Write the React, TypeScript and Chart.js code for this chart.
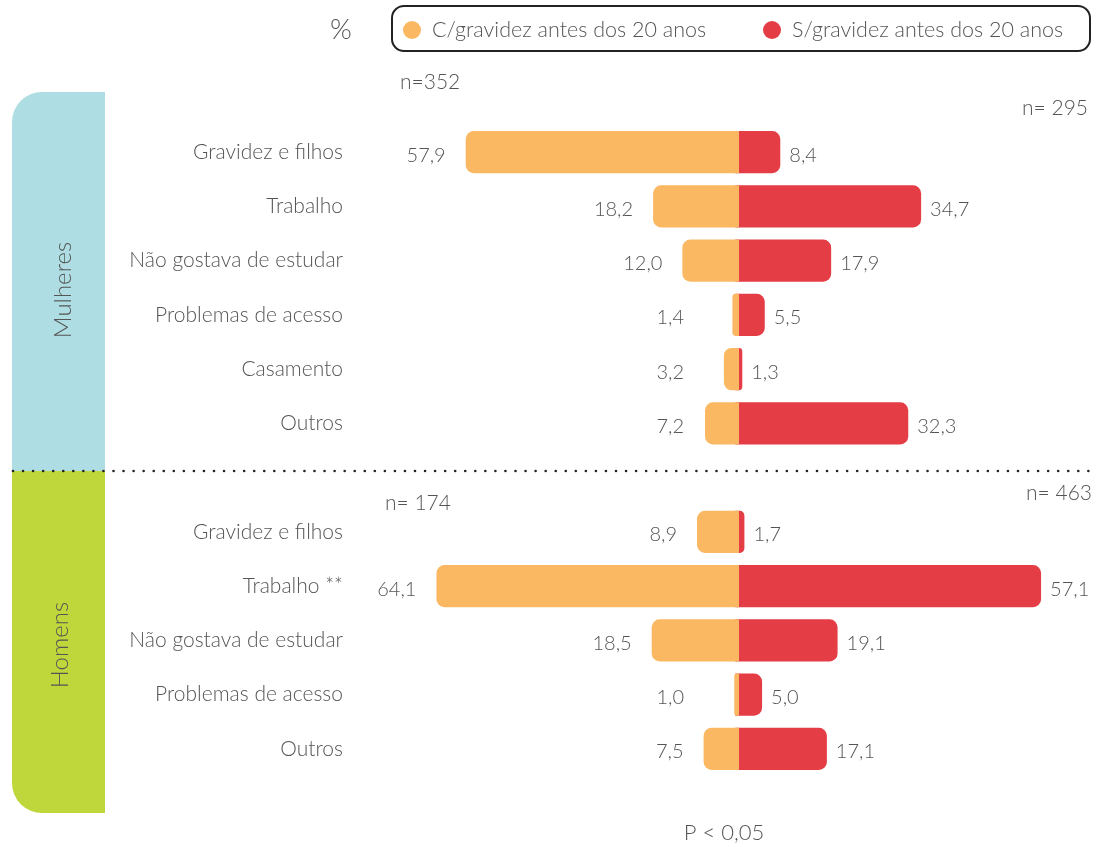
import React, { useEffect, useRef } from "react";
import { Chart, registerables } from "chart.js";

Chart.register(...registerables);

// ---------- data ----------
const categories = [
  "Gravidez e filhos",
  "Trabalho",
  "Não gostava de estudar",
  "Problemas de acesso",
  "Casamento",
  "Outros",
  "",
  "Gravidez e filhos",
  "Trabalho **",
  "Não gostava de estudar",
  "Problemas de acesso",
  "Outros",
];
const comGravidez: (number | null)[] = [57.9, 18.2, 12.0, 1.4, 3.2, 7.2, null, 8.9, 64.1, 18.5, 1.0, 7.5];
const semGravidez: (number | null)[] = [8.4, 34.7, 17.9, 5.5, 1.3, 32.3, null, 1.7, 57.1, 19.1, 5.0, 17.1];
const seriesLabels = ["C/gravidez antes dos 20 anos", "S/gravidez antes dos 20 anos"];
const groupLabels = ["Mulheres", "Homens"];
const sampleSizes = ["n=352", "n= 295", "n= 174", "n= 463"];
const unitLabel = "%";
const noteLabel = "P < 0,05";

// ---------- styles ----------
const ORANGE = "#fbb862";
const RED = "#e53d45";
const BLUE = "#aedde3";
const GREEN = "#bfd73b";
const TEXT = "#555555";
const FONT = "Lato, 'Open Sans', sans-serif";

const W = 1098;
const H = 847;
const AREA_L = 360;
const AREA_R = 1090;
const ZERO_O = 739;
const PX_O = 4.72;
const ZERO_R = 735.3;
const PX_R = 5.355;

const fmt = (v: number) => v.toFixed(1).replace(".", ",");

function roundRectPath(ctx: CanvasRenderingContext2D, x: number, y: number, w: number, h: number, r: { tl: number; tr: number; br: number; bl: number }) {
  ctx.beginPath();
  ctx.moveTo(x + r.tl, y);
  ctx.lineTo(x + w - r.tr, y);
  ctx.arcTo(x + w, y, x + w, y + r.tr, r.tr);
  ctx.lineTo(x + w, y + h - r.br);
  ctx.arcTo(x + w, y + h, x + w - r.br, y + h, r.br);
  ctx.lineTo(x + r.bl, y + h);
  ctx.arcTo(x, y + h, x, y + h - r.bl, r.bl);
  ctx.lineTo(x, y + r.tl);
  ctx.arcTo(x, y, x + r.tl, y, r.tl);
  ctx.closePath();
}

const decorPlugin = {
  id: "decor",
  beforeDraw(chart: any) {
    const ctx: CanvasRenderingContext2D = chart.ctx;
    ctx.save();
    // side panels
    ctx.fillStyle = BLUE;
    roundRectPath(ctx, 12, 92, 93, 379, { tl: 30, tr: 0, br: 0, bl: 0 });
    ctx.fill();
    ctx.fillStyle = GREEN;
    roundRectPath(ctx, 12, 471, 93, 342, { tl: 0, tr: 0, br: 0, bl: 30 });
    ctx.fill();
    // dotted separator
    ctx.fillStyle = "#222";
    for (let x = 13; x <= 1092; x += 10.05) {
      ctx.beginPath();
      ctx.arc(x, 471, 1.3, 0, Math.PI * 2);
      ctx.fill();
    }
    // group labels (rotated)
    ctx.fillStyle = TEXT;
    ctx.font = `300 24px ${FONT}`;
    ctx.textAlign = "center";
    ctx.textBaseline = "middle";
    const g = [
      [63, 290],
      [60, 645],
    ];
    groupLabels.forEach((t, i) => {
      ctx.save();
      ctx.translate(g[i][0], g[i][1]);
      ctx.rotate(-Math.PI / 2);
      ctx.fillText(t, 0, 0);
      ctx.restore();
    });
    // legend box
    ctx.strokeStyle = "#222";
    ctx.lineWidth = 2;
    roundRectPath(ctx, 392, 6, 698, 45, { tl: 12, tr: 12, br: 12, bl: 12 });
    ctx.stroke();
    const items = [
      { x: 412, c: ORANGE },
      { x: 772, c: RED },
    ];
    ctx.font = `300 21.5px ${FONT}`;
    ctx.textAlign = "left";
    items.forEach((it, i) => {
      ctx.fillStyle = it.c;
      ctx.beginPath();
      ctx.arc(it.x, 30, 9, 0, Math.PI * 2);
      ctx.fill();
      ctx.fillStyle = TEXT;
      ctx.fillText(seriesLabels[i], it.x + 20, 30);
    });
    // unit
    ctx.font = `300 28px ${FONT}`;
    ctx.textAlign = "center";
    ctx.fillText(unitLabel, 341, 30);
    // sample sizes
    ctx.font = `300 21px ${FONT}`;
    ctx.textAlign = "left";
    ctx.fillText(sampleSizes[0], 400, 82);
    ctx.textAlign = "right";
    ctx.fillText(sampleSizes[1], 1088, 108);
    ctx.textAlign = "left";
    ctx.fillText(sampleSizes[2], 385, 503);
    ctx.textAlign = "right";
    ctx.fillText(sampleSizes[3], 1092, 493);
    // note
    ctx.font = `300 22px ${FONT}`;
    ctx.textAlign = "center";
    ctx.fillText(noteLabel, 724, 833);
    ctx.restore();
  },
  afterDatasetsDraw(chart: any) {
    const ctx: CanvasRenderingContext2D = chart.ctx;
    ctx.save();
    ctx.font = `300 20px ${FONT}`;
    ctx.fillStyle = TEXT;
    ctx.textBaseline = "middle";
    const mo = chart.getDatasetMeta(0);
    const mr = chart.getDatasetMeta(1);
    comGravidez.forEach((v, i) => {
      if (v == null) return;
      const el = mo.data[i];
      const left = Math.min(el.x, el.base);
      ctx.textAlign = "right";
      ctx.fillText(fmt(v), Math.min(left - 20, 684), el.y + 3);
    });
    semGravidez.forEach((v, i) => {
      if (v == null) return;
      const el = mr.data[i];
      const right = Math.max(el.x, el.base);
      ctx.textAlign = "left";
      ctx.fillText(fmt(v), right + 9, el.y + 3);
    });
    ctx.restore();
  },
};

export default function App() {
  const ref = useRef<HTMLCanvasElement | null>(null);
  useEffect(() => {
    document.body.style.margin = "0";
    const canvas = ref.current!;
    const areaW = AREA_R - AREA_L;
    const oMin = (ZERO_O - AREA_R) / PX_O;
    const oMax = oMin + areaW / PX_O;
    const rMin = (AREA_L - ZERO_R) / PX_R;
    const rMax = rMin + areaW / PX_R;
    const chart = new Chart(canvas, {
      type: "bar",
      data: {
        labels: categories,
        datasets: [
          {
            label: seriesLabels[0],
            data: comGravidez,
            backgroundColor: ORANGE,
            xAxisID: "xo",
            grouped: false,
            borderRadius: 8,
            borderSkipped: "start",
            barPercentage: 0.775,
            categoryPercentage: 1,
          } as any,
          {
            label: seriesLabels[1],
            data: semGravidez,
            backgroundColor: RED,
            xAxisID: "xr",
            grouped: false,
            borderRadius: 8,
            borderSkipped: "start",
            barPercentage: 0.775,
            categoryPercentage: 1,
          } as any,
        ],
      },
      options: {
        indexAxis: "y",
        responsive: false,
        animation: false,
        devicePixelRatio: 1,
        events: [],
        layout: { padding: { top: 125, bottom: 71, left: 0, right: W - AREA_R } },
        plugins: { legend: { display: false }, tooltip: { enabled: false }, title: { display: false } },
        scales: {
          xo: { type: "linear", display: false, reverse: true, min: oMin, max: oMax, position: "bottom" },
          xr: { type: "linear", display: false, min: rMin, max: rMax, position: "bottom" },
          y: {
            type: "category",
            grid: { display: false },
            border: { display: false },
            ticks: {
              color: TEXT,
              font: { family: FONT, size: 21, weight: "300" as any },
              padding: 9,
              autoSkip: false,
            },
            afterFit: (s: any) => {
              s.width = AREA_L;
            },
          } as any,
        },
      },
      plugins: [decorPlugin],
    });
    return () => chart.destroy();
  }, []);
  return (
    <div style={{ position: "fixed", left: 0, top: 0, width: W, height: H, background: "#fff" }}>
      <canvas ref={ref} width={W} height={H} />
    </div>
  );
}
